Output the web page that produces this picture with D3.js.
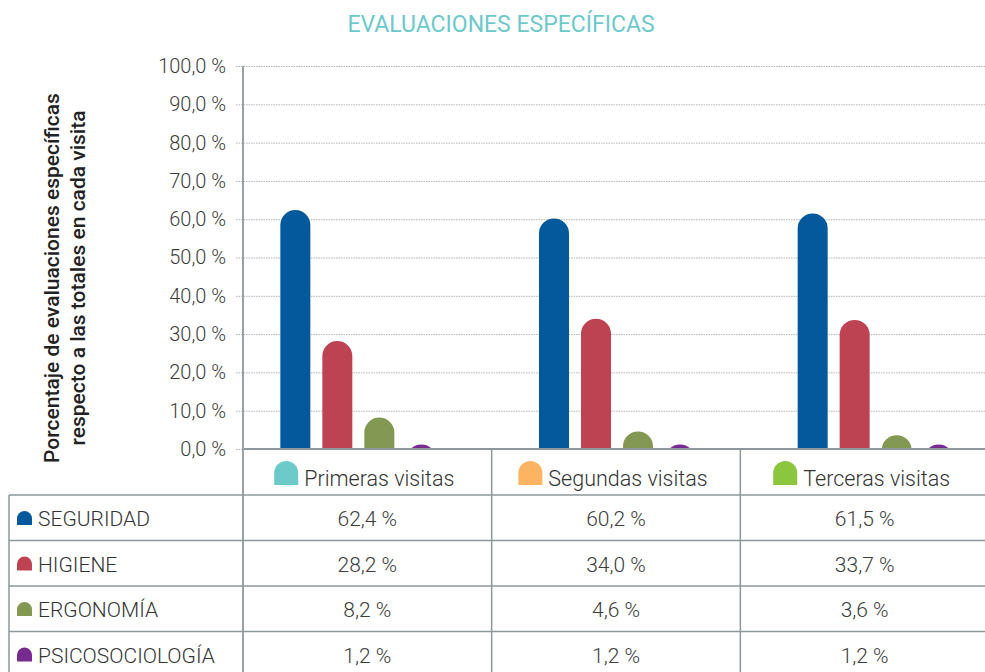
<!DOCTYPE html>
<html>
<head>
<meta charset="utf-8">
<script src="https://cdn.jsdelivr.net/npm/d3@7"></script>
<style>
  body { margin: 0; background: #fff; }
  text { font-family: Roboto, "Noto Sans", sans-serif; }
</style>
</head>
<body>
<script>
// data
const visits = ['Primeras visitas', 'Segundas visitas', 'Terceras visitas'];
const categories = ['SEGURIDAD', 'HIGIENE', 'ERGONOMÍA', 'PSICOSOCIOLOGÍA'];
const seguridad = [62.4, 60.2, 61.5];
const higiene = [28.2, 34.0, 33.7];
const ergonomia = [8.2, 4.6, 3.6];
const psicosociologia = [1.2, 1.2, 1.2];
const yTicks = [0, 10, 20, 30, 40, 50, 60, 70, 80, 90, 100];

const series = [seguridad, higiene, ergonomia, psicosociologia];
const catColors = ['#03599c', '#bd4352', '#839853', '#772b8f'];
const visitColors = ['#6ccacb', '#fcb462', '#8cc63f'];

const W = 985, H = 672;
const plot = { left: 243, right: 989, top: 66, bottom: 449 };
const rowH = 45.5;
const tableLeft = 9;
const lineColor = '#8e979b';

const svg = d3.select('body').append('svg')
  .attr('width', W)
  .attr('height', H);

// table columns
const x0 = d3.scaleBand()
  .domain(visits)
  .range([plot.left, plot.right]);

// bar groups (the original spacing is not quite the table's)
const xg = d3.scaleBand()
  .domain(visits)
  .range([229, 1005]);

const x1 = d3.scaleBand()
  .domain(categories)
  .range([0, 156])
  .paddingInner(2 / 7);

const y = d3.scaleLinear()
  .domain([0, 100])
  .range([plot.bottom, plot.top]);

const fmt = v => d3.format('.1f')(v).replace('.', ',') + ' %';

// arch shaped icon (rounded top)
const arch = (x, yTop, w, h) => {
  const r = w / 2;
  return `M${x},${yTop + h}V${yTop + r}A${r},${r} 0 0 1 ${x + w},${yTop + r}V${yTop + h}Z`;
};

// title
svg.append('text')
  .attr('x', 501)
  .attr('y', 32)
  .attr('text-anchor', 'middle')
  .style('font-size', '23px')
  .style('fill', '#6cc9cb')
  .text('EVALUACIONES ESPECÍFICAS');

// grid + y axis
svg.append('g')
  .attr('transform', `translate(${plot.left},0)`)
  .call(d3.axisLeft(y).tickValues(yTicks).tickFormat(fmt).tickSize(-(W - plot.left)).tickPadding(17))
  .call(g => g.select('.domain').remove())
  .call(g => g.selectAll('.tick line')
    .attr('x1', -7)
    .style('stroke', '#b4b4b4')
    .style('stroke-dasharray', '1.5,1'))
  .call(g => g.selectAll('.tick text')
    .style('font-size', '20px')
    .style('font-weight', 300)
    .style('fill', '#3c3c3c'));

// y title
svg.append('text')
  .attr('transform', 'translate(0,278) rotate(-90)')
  .attr('text-anchor', 'middle')
  .style('font-size', '21px')
  .style('font-weight', 500)
  .style('fill', '#222')
  .selectAll('tspan')
  .data(['Porcentaje de evaluaciones específicas', 'respecto a las totales en cada visita'])
  .enter()
  .append('tspan')
  .attr('x', 0)
  .attr('y', (d, i) => 59 + i * 26)
  .text(d => d);

// bars
svg.append('clipPath')
  .attr('id', 'plotClip')
  .append('rect')
  .attr('x', plot.left)
  .attr('y', 0)
  .attr('width', W - plot.left)
  .attr('height', plot.bottom);

const barData = [];
categories.forEach((c, ci) => {
  visits.forEach((v, vi) => barData.push({ cat: c, visit: v, value: series[ci][vi], color: catColors[ci] }));
});

svg.append('g')
  .attr('clip-path', 'url(#plotClip)')
  .selectAll('rect')
  .data(barData)
  .enter()
  .append('rect')
  .attr('x', d => xg(d.visit) + xg.bandwidth() / 2 - 78 + x1(d.cat))
  .attr('y', d => y(d.value))
  .attr('width', x1.bandwidth())
  .attr('height', d => y(0) - y(d.value) + 30)
  .attr('rx', x1.bandwidth() / 2)
  .style('fill', d => d.color);

// table lines
const lines = svg.append('g')
  .style('stroke', lineColor)
  .style('stroke-width', '1.5px');

// baseline / header top
lines.append('line')
  .attr('x1', plot.left).attr('x2', W)
  .attr('y1', plot.bottom).attr('y2', plot.bottom)
  .style('stroke-width', '2px');

// y axis line continuing into the table
lines.append('line')
  .attr('x1', plot.left).attr('x2', plot.left)
  .attr('y1', plot.top).attr('y2', H)
  .style('stroke', '#9aa1a5')
  .style('stroke-width', '2px');

const headerBottom = plot.bottom + 46;

lines.selectAll('.row-line')
  .data(d3.range(categories.length))
  .enter()
  .append('line')
  .attr('x1', tableLeft).attr('x2', W)
  .attr('y1', i => headerBottom + i * rowH)
  .attr('y2', i => headerBottom + i * rowH);

lines.append('line')
  .attr('x1', tableLeft).attr('x2', tableLeft)
  .attr('y1', headerBottom).attr('y2', H);

lines.selectAll('.col-line')
  .data(visits.slice(1))
  .enter()
  .append('line')
  .attr('x1', d => x0(d)).attr('x2', d => x0(d))
  .attr('y1', plot.bottom).attr('y2', H);

// header legend
const header = svg.append('g')
  .selectAll('g')
  .data(visits)
  .enter()
  .append('g')
  .attr('transform', d => `translate(${x0(d) + x0.bandwidth() / 2},0)`);

header.append('text')
  .attr('x', 12)
  .attr('y', 486)
  .attr('text-anchor', 'middle')
  .style('font-size', '21.5px')
  .style('font-weight', 300)
  .style('fill', '#333')
  .text(d => d)
  .each(function () {
    const bb = this.getBBox();
    d3.select(this.parentNode).append('path')
      .attr('d', arch(bb.x - 30, 461, 24, 24))
      .style('fill', visitColors[visits.indexOf(d3.select(this).datum())]);
  });

// table rows
const rows = svg.append('g')
  .selectAll('g')
  .data(categories)
  .enter()
  .append('g')
  .attr('transform', (d, i) => `translate(0,${headerBottom + i * rowH})`);

rows.append('path')
  .attr('d', arch(17, 16, 15, 14))
  .style('fill', (d, i) => catColors[i]);

rows.append('text')
  .attr('x', 38)
  .attr('y', 31)
  .style('font-size', '21px')
  .style('font-weight', 300)
  .style('fill', '#333')
  .text(d => d);

rows.each(function (d, ci) {
  d3.select(this).selectAll('.val')
    .data(series[ci])
    .enter()
    .append('text')
    .attr('x', (v, vi) => x0(visits[vi]) + x0.bandwidth() / 2)
    .attr('y', 31)
    .attr('text-anchor', 'middle')
    .style('font-size', '21px')
    .style('font-weight', 300)
    .style('fill', '#3c3c3c')
    .text(v => fmt(v));
});
</script>
</body>
</html>
